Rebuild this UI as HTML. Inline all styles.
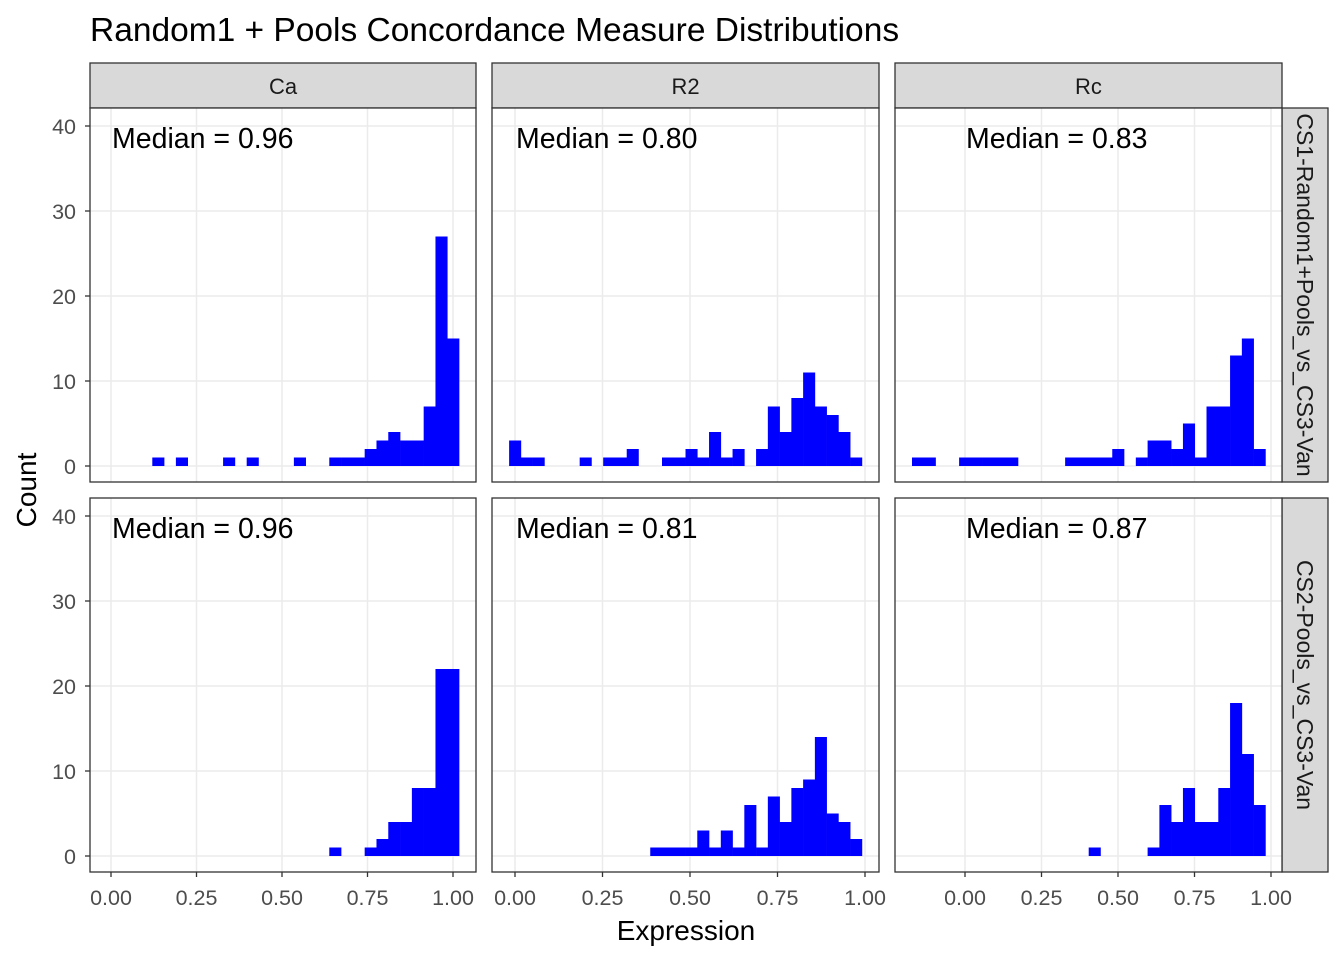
<!DOCTYPE html>
<html><head><meta charset="utf-8">
<style>
html,body{margin:0;padding:0;background:#fff;}
svg{display:block;font-family:"Liberation Sans",Arial,sans-serif;}
</style></head>
<body>
<svg id="chart" width="1344" height="960" viewBox="0 0 1344 960">
<text x="90" y="41" font-size="33.5" fill="#000">Random1 + Pools Concordance Measure Distributions</text>
<text x="0" y="0" font-size="28" fill="#000" text-anchor="middle" transform="translate(36,490) rotate(-90)">Count</text>
<text x="686" y="940" font-size="28" fill="#000" text-anchor="middle">Expression</text>
<g id="panels"></g>
</svg>
<script>
// ---- data ----
const colNames = ["Ca", "R2", "Rc"];
const rowNames = ["CS1-Random1+Pools_vs_CS3-Van", "CS2-Pools_vs_CS3-Van"];
const medianLabels = [["0.96", "0.80", "0.83"], ["0.96", "0.81", "0.87"]];
const xTickLabels = ["0.00", "0.25", "0.50", "0.75", "1.00"];
const xTickValues = [0, 0.25, 0.5, 0.75, 1];
const yTickValues = [0, 10, 20, 30, 40];
const binFirstCenter = [0, 0, -0.154];
const binWidth = [0.0345, 0.0336, 0.0385];
const countsCaTop = [0,0,0,0,1,0,1,0,0,0,1,0,1,0,0,0,1,0,0,1,1,1,2,3,4,3,3,7,27,15];
const countsR2Top = [3,1,1,0,0,0,1,0,1,1,2,0,0,1,1,2,1,4,1,2,0,2,7,4,8,11,7,6,4,1];
const countsRcTop = [1,1,0,0,1,1,1,1,1,0,0,0,0,1,1,1,1,2,0,1,3,3,2,5,1,7,7,13,15,2];
const countsCaBot = [0,0,0,0,0,0,0,0,0,0,0,0,0,0,0,0,0,0,0,1,0,0,1,2,4,4,8,8,22,22];
const countsR2Bot = [0,0,0,0,0,0,0,0,0,0,0,0,1,1,1,1,3,1,3,1,6,1,7,4,8,9,14,5,4,2];
const countsRcBot = [0,0,0,0,0,0,0,0,0,0,0,0,0,0,0,1,0,0,0,0,1,6,4,8,4,4,8,18,12,6];

// ---- layout ----
const counts = [[countsCaTop, countsR2Top, countsRcTop], [countsCaBot, countsR2Bot, countsRcBot]];
const panelX = [[90, 476], [492, 879], [895, 1282]];
const panelY = [[108, 482], [498, 872]];
const xZero = [111, 515, 965];
const xUnit = [342, 350, 306];
const yZeroOff = 358;
const yUnit = 8.5;
const NS = "http://www.w3.org/2000/svg";
const root = document.getElementById("panels");
function mk(tag, attrs, parent) {
  const e = document.createElementNS(NS, tag);
  for (const k in attrs) e.setAttribute(k, attrs[k]);
  (parent || root).appendChild(e);
  return e;
}
function xScale(c, v) { return xZero[c] + v * xUnit[c]; }
function yScale(r, v) { return panelY[r][0] + yZeroOff - v * yUnit; }

for (let c = 0; c < 3; c++) {
  const s = mk("rect", {x: panelX[c][0], y: 63, width: panelX[c][1] - panelX[c][0], height: 45, fill: "#d9d9d9", stroke: "#333", "stroke-width": 1.3});
  
  
  const t = mk("text", {x: (panelX[c][0] + panelX[c][1]) / 2, y: 94, "font-size": 22, fill: "#1a1a1a", "text-anchor": "middle"});
  t.textContent = colNames[c];
  
  
}
for (let r = 0; r < 2; r++) {
  const s = mk("rect", {x: 1282, y: panelY[r][0], width: 46, height: panelY[r][1] - panelY[r][0], fill: "#d9d9d9", stroke: "#333", "stroke-width": 1.3});
  
  
  const cy = (panelY[r][0] + panelY[r][1]) / 2;
  const t = mk("text", {x: 0, y: 0, "font-size": 23, fill: "#1a1a1a", "text-anchor": "middle", transform: "translate(1297," + cy + ") rotate(90)"});
  t.textContent = rowNames[r];
  
  
}

for (let r = 0; r < 2; r++) {
  for (let c = 0; c < 3; c++) {
    const g = mk("g", {});
    
    
    const x0 = panelX[c][0], x1 = panelX[c][1], y0 = panelY[r][0], y1 = panelY[r][1];
    mk("rect", {x: x0, y: y0, width: x1 - x0, height: y1 - y0, fill: "#fff"}, g);
    for (const v of yTickValues) {
      const yy = yScale(r, v);
      const gl = mk("line", {x1: x0, x2: x1, y1: yy, y2: yy, stroke: "#ebebeb", "stroke-width": 1.5}, g);
      
      
    }
    for (const v of xTickValues) {
      const xx = xScale(c, v);
      const gl = mk("line", {x1: xx, x2: xx, y1: y0, y2: y1, stroke: "#ebebeb", "stroke-width": 1.5}, g);
      
      
    }
    const arr = counts[r][c];
    for (let i = 0; i < arr.length; i++) {
      if (!arr[i]) continue;
      const cen = binFirstCenter[c] + i * binWidth[c];
      const xa = xScale(c, cen - binWidth[c] / 2), xb = xScale(c, cen + binWidth[c] / 2);
      const b = mk("rect", {x: xa, y: yScale(r, arr[i]), width: xb - xa + 0.3, height: yScale(r, 0) - yScale(r, arr[i]), fill: "#0000ff"}, g);
      
      
    }
    const mt = mk("text", {x: xScale(c, 0) + 1, y: y0 + 40, "font-size": 28.5, fill: "#000"}, g);
    mt.textContent = "Median = " + medianLabels[r][c];
    
    
    mk("rect", {x: x0, y: y0, width: x1 - x0, height: y1 - y0, fill: "none", stroke: "#333", "stroke-width": 1.3}, g);
    if (r === 1) {
      xTickValues.forEach((v, k) => {
        const xx = xScale(c, v);
        mk("line", {x1: xx, x2: xx, y1: y1, y2: y1 + 5, stroke: "#333", "stroke-width": 1.3});
        const t = mk("text", {x: xx, y: 905, "font-size": 21.5, fill: "#4d4d4d", "text-anchor": "middle"});
        t.textContent = xTickLabels[k];
        
        
      });
    }
    if (c === 0) {
      yTickValues.forEach(v => {
        const yy = yScale(r, v);
        mk("line", {x1: x0 - 5, x2: x0, y1: yy, y2: yy, stroke: "#333", "stroke-width": 1.3});
        const t = mk("text", {x: x0 - 14, y: yy + 8, "font-size": 21.5, fill: "#4d4d4d", "text-anchor": "end"});
        t.textContent = v;
        
        
      });
    }
  }
}
</script>
</body></html>
